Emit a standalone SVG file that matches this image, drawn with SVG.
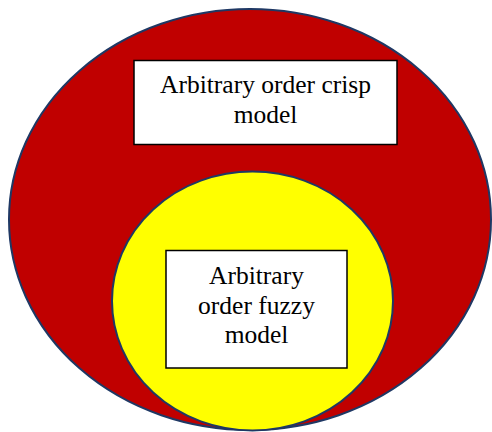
<svg xmlns="http://www.w3.org/2000/svg" width="492" height="432" viewBox="0 0 492 432">
<style>
.sh{stroke:#1F3864;stroke-width:2}
.box{fill:#FFFFFF;stroke:#000000;stroke-width:1.5}
.t{font-size:25.5px;fill:#000000;text-anchor:middle}
</style>
<rect width="492" height="432" fill="#FFFFFF"/>
<g id="crisp">
<ellipse class="sh" cx="250" cy="219.5" rx="241" ry="210.5" fill="#C00000"/>
</g>
<g id="fuzzy">
<ellipse class="sh" cx="252.5" cy="301" rx="140.5" ry="129.5" fill="#FFFF00"/>
</g>
<g id="crisp-label" font-family="Liberation Serif, Times New Roman, serif">
<rect class="box" x="134" y="60.5" width="263" height="84"/>
<text class="t" x="265.5" y="93">Arbitrary order crisp</text>
<text class="t" x="265.5" y="123">model</text>
</g>
<g id="fuzzy-label" font-family="Liberation Serif, Times New Roman, serif">
<rect class="box" x="166" y="250.5" width="181" height="117.5"/>
<text class="t" x="256.5" y="284">Arbitrary</text>
<text class="t" x="256.5" y="313.5">order fuzzy</text>
<text class="t" x="256.5" y="343">model</text>
</g>
<g id="connectors"/>
</svg>
